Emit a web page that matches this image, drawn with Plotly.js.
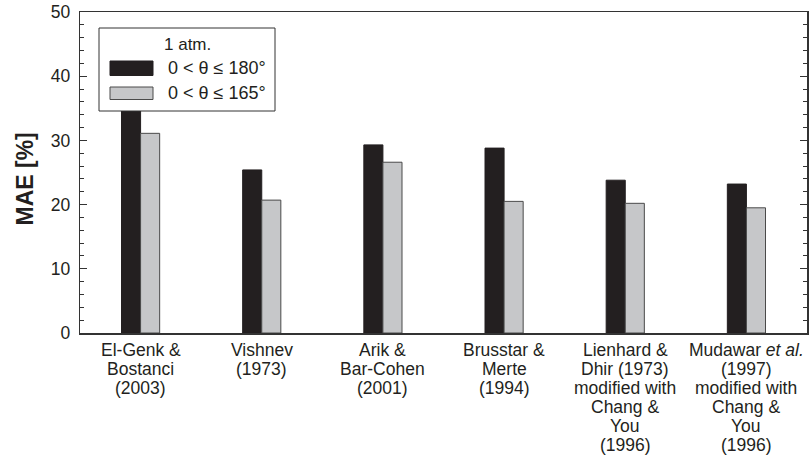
<!DOCTYPE html>
<html>
<head>
<meta charset="utf-8">
<script src="https://cdn.plot.ly/plotly-3.0.1.min.js"></script>
<style>html,body{margin:0;padding:0;background:#fff;}#chart{width:812px;height:460px;}</style>
</head>
<body>
<div id="chart"></div>
<script>
// Category labels (one entry per category, lines separated by "\n")
const categories = [
  "El-Genk &\nBostanci\n(2003)",
  "Vishnev\n(1973)",
  "Arik &\nBar-Cohen\n(2001)",
  "Brusstar &\nMerte\n(1994)",
  "Lienhard &\nDhir (1973)\nmodified with\nChang &\nYou\n(1996)",
  "Mudawar <i>et al.</i>\n(1997)\nmodified with\nChang &\nYou\n(1996)"
];
const mae180 = [36, 25.4, 29.3, 28.8, 23.8, 23.2];
const mae165 = [31.1, 20.7, 26.6, 20.5, 20.2, 19.5];
const legendTitle = "1 atm.";
const seriesNames = ["0 &lt; θ ≤ 180°", "0 &lt; θ ≤ 165°"];
const yTitle = "MAE [%]";
const yTicks = [0, 10, 20, 30, 40, 50];

const FONT = '"Liberation Sans", Arial, Helvetica, sans-serif';
const c1 = "#231f20", c2 = "#c6c7c9";
const catIdx = categories.map((_, i) => i);

const traces = [
  {type:"bar", x:catIdx, y:mae180, name:seriesNames[0],
   marker:{color:c1, line:{color:"#231f20", width:1}}},
  {type:"bar", x:catIdx, y:mae165, name:seriesNames[1],
   marker:{color:c2, line:{color:"#4a4a4a", width:1}}}
];

// category labels drawn as one annotation per line (tight leading as in the reference)
const catAnnots = [];
categories.forEach((lab, i) => {
  lab.split("\n").forEach((line, k) => {
    catAnnots.push({
      xref:"x", yref:"paper", x:i, y:0, text:line.replace(/&(?!amp;|lt;|gt;)/g, "&amp;"),
      showarrow:false, xanchor:"center", yanchor:"middle",
      yshift:-(16.5 + 19.1 * k),
      font:{size:17.5, family:FONT, color:"#231f20"}
    });
  });
});

const PW = 727, PH = 321, PL = 80, PB = 333;
const layout = {
  width:812, height:460,
  margin:{l:80, r:5, t:12, b:127},
  paper_bgcolor:"#fff", plot_bgcolor:"#fff",
  font:{family:FONT, color:"#231f20", size:16},
  showlegend:false,
  barmode:"group", bargap:0.685, bargroupgap:0,
  xaxis:{
    type:"linear", range:[-0.5,5.5],
    showline:true, mirror:true, linecolor:"#333", linewidth:1.5,
    ticks:"", showgrid:false, zeroline:false, showticklabels:false,
    automargin:false
  },
  yaxis:{
    range:[0,50], tickvals:yTicks, ticktext:yTicks.map(v => String(v) + "\u00A0"),
    showline:true, mirror:"ticks", linecolor:"#333", linewidth:1.5,
    ticks:"inside", ticklen:7, tickwidth:1, tickcolor:"#333",
    minor:{dtick:2, ticks:"inside", ticklen:4, tickwidth:1, tickcolor:"#333"},
    showgrid:false, zeroline:false,
    tickfont:{size:17.5, family:FONT},
    automargin:false
  },
  shapes:[
    {type:"rect", xref:"paper", yref:"paper", layer:"above",
     x0:(99-PL)/PW, x1:(275-PL)/PW, y0:(PB-111)/PH, y1:(PB-28)/PH,
     fillcolor:"#fff", line:{color:"#333", width:1}},
    {type:"rect", xref:"paper", yref:"paper", layer:"above",
     x0:(110-PL)/PW, x1:(153-PL)/PW, y0:(PB-75.5)/PH, y1:(PB-61)/PH,
     fillcolor:c1, line:{color:"#231f20", width:1}},
    {type:"rect", xref:"paper", yref:"paper", layer:"above",
     x0:(110-PL)/PW, x1:(153-PL)/PW, y0:(PB-99.5)/PH, y1:(PB-87)/PH,
     fillcolor:c2, line:{color:"#4a4a4a", width:1}}
  ],
  annotations:[
    {xref:"paper", yref:"paper", x:(24-PL)/PW, y:(PB-179.5)/PH, text:"<b>" + yTitle + "</b>",
     textangle:-90, showarrow:false, xanchor:"center", yanchor:"middle",
     font:{size:23, family:FONT, color:"#231f20"}},
    {xref:"paper", yref:"paper", x:(187-PL)/PW, y:(PB-44.5)/PH, text:legendTitle,
     showarrow:false, xanchor:"center", yanchor:"middle", font:{size:17, family:FONT}},
    {xref:"paper", yref:"paper", x:(166-PL)/PW, y:(PB-68)/PH, text:seriesNames[0],
     showarrow:false, xanchor:"left", yanchor:"middle", font:{size:18, family:FONT}},
    {xref:"paper", yref:"paper", x:(166-PL)/PW, y:(PB-93)/PH, text:seriesNames[1],
     showarrow:false, xanchor:"left", yanchor:"middle", font:{size:18, family:FONT}}
  ].concat(catAnnots)
};

Plotly.newPlot("chart", traces, layout, {displayModeBar:false, staticPlot:true});
</script>
</body>
</html>
